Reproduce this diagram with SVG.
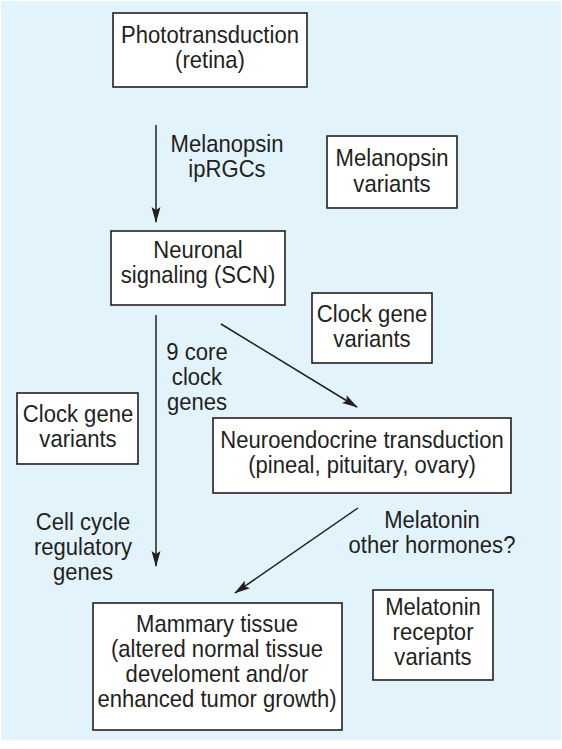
<svg xmlns="http://www.w3.org/2000/svg" width="562" height="749" viewBox="0 0 562 749">
<defs>
<style>
.bg{fill:#e2f3fc}
.box{fill:#fff;stroke:#231f20;stroke-width:1.6}
.t{font-family:"Liberation Sans",Arial,sans-serif;font-size:24px;fill:#231f20;text-anchor:middle}
.c{stroke:#231f20;stroke-width:1.5;fill:none;marker-end:url(#ah)}
</style>
<marker id="ah" viewBox="0 0 16 10" refX="15" refY="5" markerWidth="16" markerHeight="10" markerUnits="userSpaceOnUse" orient="auto">
<path d="M0,0.5 L16,5 L0,9.5 L3,5 z" fill="#231f20"/>
</marker>
</defs>
<rect width="562" height="749" fill="#fff"/>
<rect class="bg" x="1" y="1" width="560" height="739"/>

<g id="connectors">
<line class="c" x1="156" y1="125" x2="156" y2="222"/>
<line class="c" x1="156" y1="315" x2="156" y2="566"/>
<line class="c" x1="221" y1="324" x2="357" y2="407"/>
<line class="c" x1="358" y1="508" x2="235" y2="593"/>
</g>

<g id="phototransduction">
<rect class="box" x="113" y="13" width="194" height="74"/>
<text class="t" transform="translate(210,43) scale(0.92,1)">Phototransduction</text>
<text class="t" transform="translate(210,68) scale(0.92,1)">(retina)</text>
</g>

<g id="label-melanopsin-iprgcs">
<text class="t" transform="translate(227,152) scale(0.92,1)">Melanopsin</text>
<text class="t" transform="translate(227,177) scale(0.92,1)">ipRGCs</text>
</g>

<g id="melanopsin-variants">
<rect class="box" x="327" y="136" width="130" height="72"/>
<text class="t" transform="translate(392,166) scale(0.92,1)">Melanopsin</text>
<text class="t" transform="translate(392,192) scale(0.92,1)">variants</text>
</g>

<g id="neuronal-signaling">
<rect class="box" x="111" y="231" width="174" height="74"/>
<text class="t" transform="translate(198,258) scale(0.92,1)">Neuronal</text>
<text class="t" transform="translate(198,283) scale(0.92,1)">signaling (SCN)</text>
</g>

<g id="clock-gene-variants-right">
<rect class="box" x="312" y="293" width="120" height="70"/>
<text class="t" transform="translate(372,322) scale(0.92,1)">Clock gene</text>
<text class="t" transform="translate(372,347) scale(0.92,1)">variants</text>
</g>

<g id="label-core-clock-genes">
<text class="t" transform="translate(197,360) scale(0.92,1)">9 core</text>
<text class="t" transform="translate(197,385) scale(0.92,1)">clock</text>
<text class="t" transform="translate(197,410) scale(0.92,1)">genes</text>
</g>

<g id="clock-gene-variants-left">
<rect class="box" x="17" y="393" width="121" height="71"/>
<text class="t" transform="translate(78,422) scale(0.92,1)">Clock gene</text>
<text class="t" transform="translate(78,447) scale(0.92,1)">variants</text>
</g>

<g id="neuroendocrine-transduction">
<rect class="box" x="213" y="418" width="298" height="75"/>
<text class="t" transform="translate(362,448) scale(0.92,1)">Neuroendocrine transduction</text>
<text class="t" transform="translate(362,473) scale(0.92,1)">(pineal, pituitary, ovary)</text>
</g>

<g id="label-cell-cycle">
<text class="t" transform="translate(83,530) scale(0.92,1)">Cell cycle</text>
<text class="t" transform="translate(83,555) scale(0.92,1)">regulatory</text>
<text class="t" transform="translate(83,580) scale(0.92,1)">genes</text>
</g>

<g id="label-melatonin">
<text class="t" transform="translate(432,528) scale(0.92,1)">Melatonin</text>
<text class="t" transform="translate(432,553) scale(0.92,1)">other hormones?</text>
</g>

<g id="mammary-tissue">
<rect class="box" x="93" y="603" width="249" height="127"/>
<text class="t" transform="translate(217,632) scale(0.92,1)">Mammary tissue</text>
<text class="t" transform="translate(217,657) scale(0.92,1)">(altered normal tissue</text>
<text class="t" transform="translate(217,682) scale(0.92,1)">develoment and/or</text>
<text class="t" transform="translate(217,707) scale(0.92,1)">enhanced tumor growth)</text>
</g>

<g id="melatonin-receptor-variants">
<rect class="box" x="373" y="590" width="120" height="90"/>
<text class="t" transform="translate(433,615) scale(0.92,1)">Melatonin</text>
<text class="t" transform="translate(433,640) scale(0.92,1)">receptor</text>
<text class="t" transform="translate(433,665) scale(0.92,1)">variants</text>
</g>
</svg>
